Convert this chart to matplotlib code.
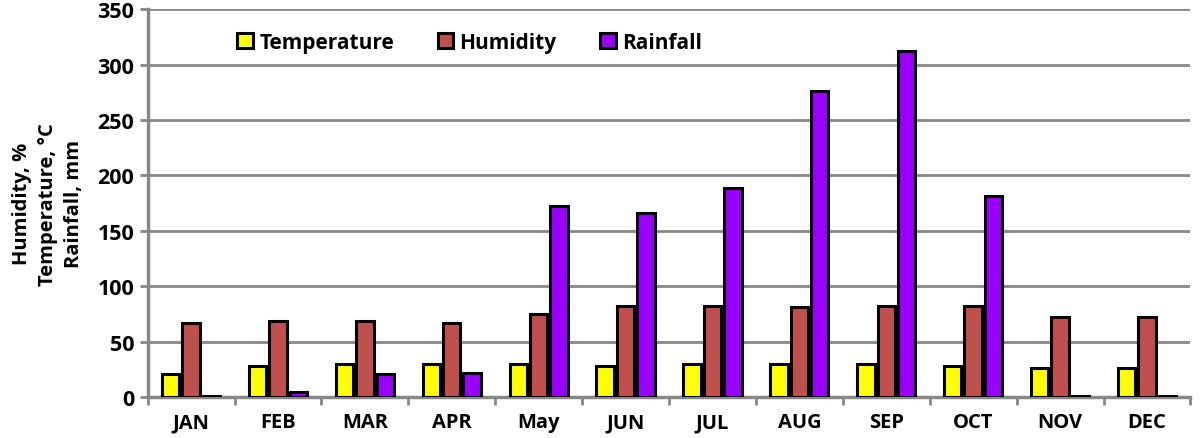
import matplotlib.pyplot as plt
import numpy as np

plt.rcParams['font.family'] = ['Open Sans', 'DejaVu Sans']
plt.rcParams['font.weight'] = 'bold'

months = ['JAN', 'FEB', 'MAR', 'APR', 'May', 'JUN', 'JUL', 'AUG', 'SEP', 'OCT', 'NOV', 'DEC']
temperature = [21, 28, 30, 30, 30, 28, 30, 30, 30, 28, 26, 26]
humidity = [67, 69, 69, 67, 75, 82, 82, 81, 82, 82, 72, 72]
rainfall = [1, 5, 21, 22, 172, 166, 189, 276, 312, 181, 1, 1]

series = [
    ('Temperature', temperature, '#ffff00'),
    ('Humidity', humidity, '#c0504d'),
    ('Rainfall', rainfall, '#9900ff'),
]

fig = plt.figure(figsize=(12, 4.39), dpi=100)
ax = fig.add_axes([0.123, 0.093, 0.869, 0.884])

x = np.arange(len(months))
w = 0.2
gap = 0.235
for i, (name, vals, col) in enumerate(series):
    ax.bar(x + (i - 1) * gap, vals, w, color=col, edgecolor='black',
           linewidth=2.2, label=name, zorder=3)

ax.set_xlim(-0.5, len(months) - 0.5)
ax.set_ylim(0, 350)
ax.set_yticks(range(0, 351, 50))
ax.set_xticks(x)
ax.set_xticklabels(months, fontsize=14.5, fontweight='bold')
ax.set_xticks(np.arange(-0.5, len(months), 1), minor=True)
ax.tick_params(axis='x', which='major', length=0, pad=11)
ax.tick_params(axis='x', which='minor', length=6, width=2, color='#888888')
ax.tick_params(axis='y', length=6, width=2, color='#888888', labelsize=15.5)
for lab in ax.get_yticklabels():
    lab.set_fontweight('bold')

ax.grid(axis='y', color='#888888', linewidth=2, zorder=0)
for s in ['top', 'right']:
    ax.spines[s].set_visible(False)
for s in ['left', 'bottom']:
    ax.spines[s].set_color('#888888')
    ax.spines[s].set_linewidth(2.5)

ax.set_ylabel('Humidity, %\nTemperature, °C\nRainfall, mm', fontsize=14.5,
              fontweight='bold', labelpad=10, linespacing=1.4)

ax.legend(loc='upper left', bbox_to_anchor=(0.068, 0.99), ncol=3, frameon=False,
          handlelength=0.75, handleheight=0.75, handletextpad=0.3,
          columnspacing=2.1, prop={'weight': 'bold', 'size': 15})

fig.savefig('out.png', dpi=100)
